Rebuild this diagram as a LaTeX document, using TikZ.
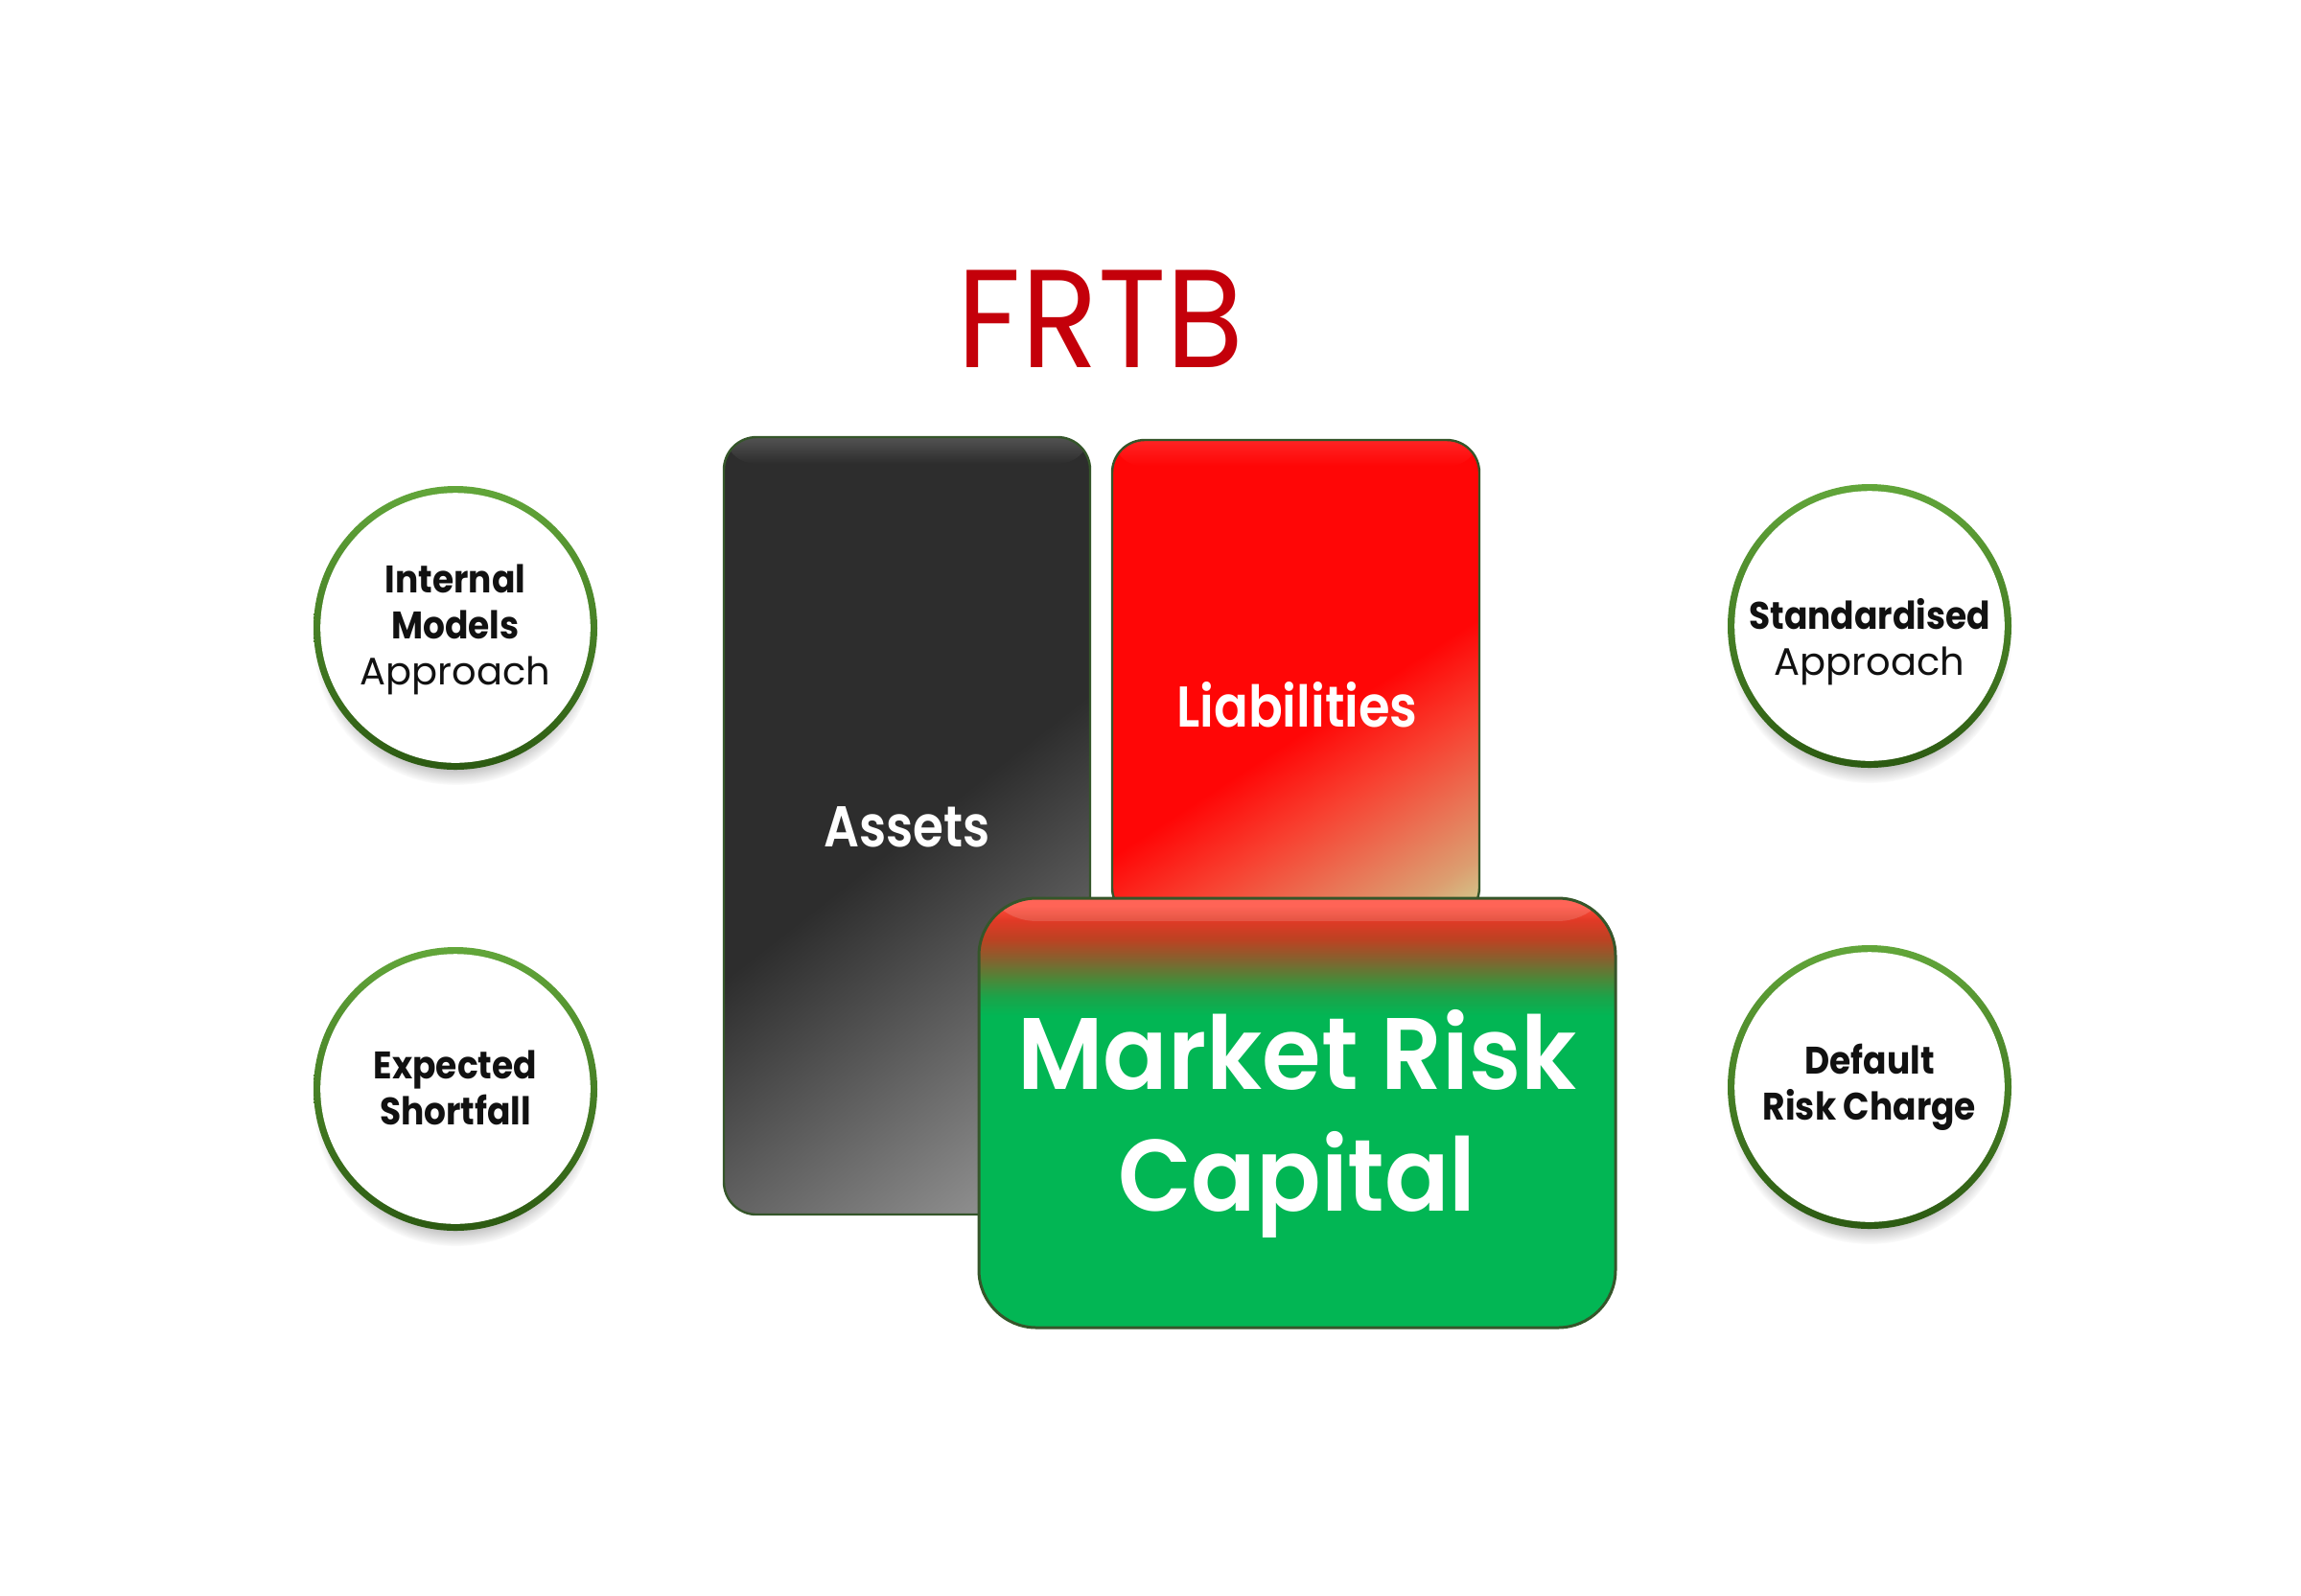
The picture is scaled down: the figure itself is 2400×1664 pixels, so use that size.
\documentclass[tikz,border=0pt]{standalone}
\usepackage{fontspec}
\setmainfont{Poppins}[BoldFont={Poppins SemiBold}]
\newfontfamily\heavy[FakeStretch=0.9]{Poppins Bold}
\usetikzlibrary{shadows,calc,fadings}

\definecolor{asD}{HTML}{2D2D2D}
\definecolor{asL}{HTML}{A2A2A2}
\definecolor{liR}{HTML}{FF0606}
\definecolor{li1}{HTML}{F84030}
\definecolor{li2}{HTML}{EA7254}
\definecolor{li3}{HTML}{DC9E70}
\definecolor{li4}{HTML}{D2C88C}
\definecolor{mr0}{HTML}{FF4A3A}
\definecolor{mr1}{HTML}{E03A26}
\definecolor{mr2}{HTML}{BC4222}
\definecolor{mr3}{HTML}{88602E}
\definecolor{mr4}{HTML}{4E8638}
\definecolor{mr5}{HTML}{1AA44A}
\definecolor{mrG}{HTML}{02B654}
\definecolor{edge}{HTML}{35562A}
\definecolor{ringT}{HTML}{62A63A}
\definecolor{ringB}{HTML}{2C5A12}
\definecolor{frtb}{HTML}{C4000A}
\definecolor{ink}{HTML}{111111}

\pgfdeclareverticalshading{assetsh}{100bp}{color(0bp)=(asL); color(25.7bp)=(asL); color(49.5bp)=(asD); color(100bp)=(asD)}
\pgfdeclareverticalshading{liabsh}{100bp}{color(0bp)=(li4); color(26.6bp)=(li4); color(29.7bp)=(li3); color(34.4bp)=(li2); color(39.8bp)=(li1); color(46.1bp)=(liR); color(100bp)=(liR)}
\pgfdeclareverticalshading{mrcsh}{100bp}{color(0bp)=(mrG); color(61.3bp)=(mrG); color(63.5bp)=(mr5); color(65.7bp)=(mr4); color(68bp)=(mr3); color(70.2bp)=(mr2); color(72.4bp)=(mr1); color(74.1bp)=(mr0); color(100bp)=(mr0)}

\begin{document}
\begin{tikzpicture}[x=0.25pt,y=-0.25pt,
  circ/.style={circle, minimum size=74pt, inner sep=0pt,
    top color=ringT, bottom color=ringB,
    circular drop shadow={shadow xshift=0pt, shadow yshift=-4pt, shadow scale=1.0, opacity=0.6},
    path picture={\fill[white] (path picture bounding box.center) circle[radius=35.2pt];}},
  circtxt/.style={align=center, text=ink, inner sep=0pt, font=\fontsize{10}{12}\selectfont},
  colbox/.style={rectangle, rounded corners=8.5pt, draw=edge, line width=0.6pt, inner sep=0pt},
  whitetxt/.style={text=white, font=\bfseries\fontsize{15}{18}\selectfont, inner sep=0pt}
]
\fill[white] (0,0) rectangle (2400,1664);
\useasboundingbox (0,0) rectangle (2400,1664);

% title
\node[text=frtb, font=\fontsize{36.4}{40}\selectfont\addfontfeatures{FakeStretch=0.905}, inner sep=0pt] (title) at (1148,333) {FRTB};

% assets box
\node[colbox, minimum width=95.5pt, minimum height=202.75pt,
  path picture={\shade[shading=assetsh, transform canvas={rotate around={38:(path picture bounding box.center)}}]
    ($(path picture bounding box.center)+(-450,-450)$) rectangle ($(path picture bounding box.center)+(450,450)$);
    \fill[white, opacity=0.18, path fading=south] (path picture bounding box.north west) rectangle ($(path picture bounding box.north east)+(0,28)$);}]
  (assets) at (946,861.5) {};
\node[whitetxt, font=\bfseries\fontsize{15}{18}\selectfont\addfontfeatures{FakeStretch=0.86}] (assetstxt) at (946,863) {Assets};

% liabilities box
\node[colbox, minimum width=95.75pt, minimum height=125.25pt,
  path picture={\shade[shading=liabsh, transform canvas={rotate around={33:(path picture bounding box.center)}}]
    ($(path picture bounding box.center)+(-320,-320)$) rectangle ($(path picture bounding box.center)+(320,320)$);
    \fill[white, opacity=0.12, path fading=south] (path picture bounding box.north west) rectangle ($(path picture bounding box.north east)+(0,28)$);}]
  (liab) at (1351.5,709.5) {};
\node[whitetxt, font=\bfseries\fontsize{15}{18}\selectfont\addfontfeatures{FakeStretch=0.88}] (liabtxt) at (1353,735) {Liabilities};

% market risk capital box
\node[rectangle, rounded corners=15pt, draw=edge, line width=0.75pt, shading=mrcsh,
  minimum width=166pt, minimum height=112pt, inner sep=0pt,
  path picture={\fill[white, opacity=0.15, path fading=south] (path picture bounding box.north west) rectangle ($(path picture bounding box.north east)+(0,24)$);}]
  (mrc) at (1353,1161) {};
\node[whitetxt, align=center, font=\bfseries\fontsize{26.5}{31.75}\selectfont\addfontfeatures{FakeStretch=0.94}] (mrctxt) at (1353,1172) {Market Risk\\Capital};

% circles
\node[circ] (ima) at (475,655) {};
\node[circtxt] (imatxt) at (475,657) {{\heavy Internal}\\{\heavy Models}\\Approach};
\node[circ] (es) at (475,1136) {};
\node[circtxt] (estxt) at (475,1135) {{\heavy Expected}\\{\heavy Shortfall}};
\node[circ] (sa) at (1950,653) {};
\node[circtxt] (satxt) at (1950,670) {{\heavy Standardised}\\Approach};
\node[circ] (drc) at (1950,1134) {};
\node[circtxt] (drctxt) at (1950,1134) {{\heavy Default}\\{\heavy Risk Charge}};
\end{tikzpicture}
\end{document}
